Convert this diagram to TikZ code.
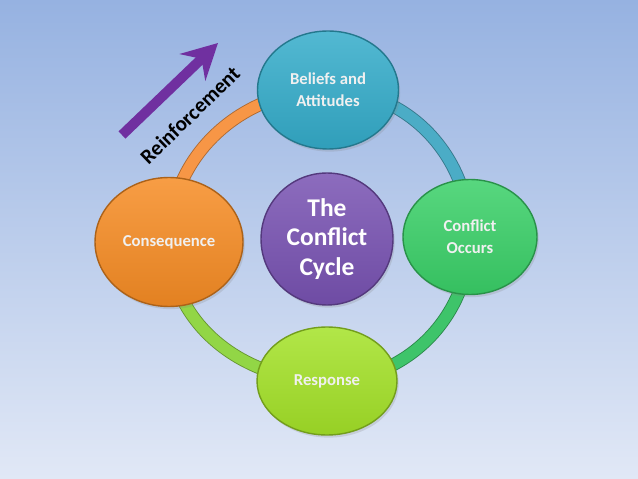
\documentclass[tikz,border=0pt]{standalone}
\usepackage{fontspec}
\setmainfont{Carlito}
\usetikzlibrary{shapes.geometric,arrows.meta,shadows}
\pgfdeclarelayer{background}
\pgfsetlayers{background,main}
\definecolor{bgtop}{RGB}{150,178,225}
\definecolor{bgbot}{RGB}{225,232,246}
\definecolor{beliefcol}{RGB}{52,172,202}
\definecolor{occurcol}{RGB}{58,208,104}
\definecolor{responsecol}{RGB}{164,226,40}
\definecolor{consecol}{RGB}{246,140,36}
\definecolor{cyclecol}{RGB}{120,82,178}
\definecolor{ringteal}{RGB}{75,172,198}
\definecolor{ringgreen}{RGB}{62,196,106}
\definecolor{ringlime}{RGB}{146,214,70}
\definecolor{ringorange}{RGB}{247,150,70}
\definecolor{arrowpurple}{RGB}{112,48,160}
\begin{document}
\begin{tikzpicture}[x=0.02cm, y=0.02cm, line join=round,
    bubble/.style={ellipse, inner sep=0pt, align=center, line width=0.8pt,
      top color=#1!85!white, bottom color=#1!92!black, draw=#1!70!black,
      text=white!94!black, font=\bfseries\fontsize{9.5}{12.5}\selectfont,
      drop shadow={opacity=0.22, shadow xshift=1pt, shadow yshift=-1.5pt}},
    ring/.style={draw=#1!70!black, double=#1, line width=0.5pt, double distance=6.4pt}]
  \useasboundingbox (0,0) rectangle (638,-479);
  % the four stages and the hub
  \node[bubble=beliefcol, minimum width=2.82cm, minimum height=2.36cm] (bel) at (328,-90) {Beliefs and\\Attitudes};
  \node[bubble=occurcol, minimum width=2.68cm, minimum height=2.30cm] (occ) at (470,-237) {Conflict\\Occurs};
  \node[bubble=responsecol, minimum width=2.80cm, minimum height=2.16cm] (res) at (327,-381) {Response};
  \node[bubble=consecol, minimum width=2.96cm, minimum height=2.58cm] (con) at (169,-242) {Consequence};
  \node[bubble=cyclecol, minimum width=2.64cm, minimum height=2.64cm,
    text=white, font=\bfseries\fontsize{14.5}{17}\selectfont] (cyc) at (327,-239) {The\\Conflict\\Cycle};
  % reinforcement arrow
  \coordinate (rtail) at (122,-135);
  \coordinate (rtip) at (218,-43);
  \draw[-{Stealth[length=20pt,width=21pt,inset=7pt]}, line width=5.7pt, arrowpurple] (rtail) -- (rtip);
  \node[rotate=44, font=\bfseries\fontsize{12}{14}\selectfont] (reinf) at (190,-115) {Reinforcement};
  \begin{pgfonlayer}{background}
    \shade[top color=bgtop, bottom color=bgbot] (0,0) rectangle (638,-479);
    \draw[ring=ringteal] (bel.center) to[out=0,in=90] (occ.center);
    \draw[ring=ringgreen] (occ.center) to[out=-90,in=0] (res.center);
    \draw[ring=ringlime] (res.center) to[out=180,in=-90] (con.center);
    \draw[ring=ringorange] (con.center) to[out=90,in=180] (bel.center);
  \end{pgfonlayer}
\end{tikzpicture}
\end{document}
